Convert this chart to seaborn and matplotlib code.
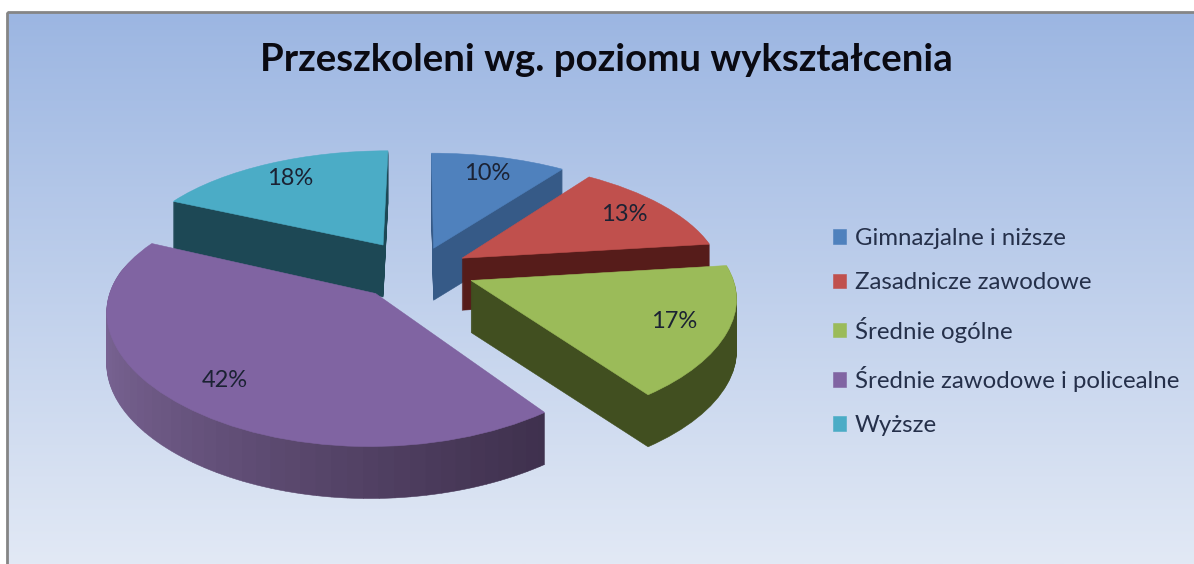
import numpy as np
import seaborn as sns
import matplotlib
matplotlib.use("Agg")
import matplotlib.pyplot as plt
from matplotlib.colors import to_rgb
from matplotlib.patches import Rectangle, Wedge
from matplotlib.transforms import Transform

title = "Przeszkoleni wg. poziomu wykształcenia"
categories = ["Gimnazjalne i niższe", "Zasadnicze zawodowe", "Średnie ogólne",
              "Średnie zawodowe i policealne", "Wyższe"]
shares = [10, 13, 17, 42, 18]

top_colors = ["#4f81bd", "#c0504d", "#9bbb59", "#8064a2", "#4bacc6"]
wall_colors = ["#365a87", "#561c1a", "#414f20", "#5a4673", "#1d4855"]

# purple wall goes dark from left to right
purple_left = "#7a6494"
purple_right = "#33263f"

CX, CY, RX, RY = 418, 270, 260, 118
TILT_BACK, TILT_FRONT, TILT_Y = 0.17, 0.12, 0.17
DEPTH = 52


class Tilted(Transform):
    # pie plane to pixels, with a bit of perspective, dropped by some pixels
    input_dims = 2
    output_dims = 2

    def __init__(self, drop=0):
        super().__init__()
        self.drop = drop

    def transform_non_affine(self, xy):
        xy = np.asarray(xy)
        wx = 1 + np.where(xy[:, 1] > 0, TILT_BACK, TILT_FRONT) * xy[:, 1]
        return np.column_stack((CX + RX * xy[:, 0] / wx,
                                CY - RY * xy[:, 1] / (1 + TILT_Y * xy[:, 1]) + self.drop))


sns.set_theme(style="white")
plt.rcParams["font.family"] = ["Lato", "DejaVu Sans"]

fig, ax = plt.subplots(figsize=(11.94, 5.64), dpi=100)
fig.subplots_adjust(0, 0, 1, 1)

wedges, _, pct = ax.pie(shares, colors=sns.color_palette(top_colors),
                        explode=[0.2, 0.2, 0.22, 0.25, 0.26], startangle=90, counterclock=False,
                        autopct="%.0f%%", pctdistance=0.8,
                        wedgeprops={"zorder": 3, "linewidth": 0.4},
                        textprops={"fontsize": 17, "color": "#1b2233", "zorder": 5})
ax.set_aspect("auto")
ax.axis("off")

ramp = np.linspace(0, 1, 256)[:, None, None]
bg = (1 - ramp) * np.array(to_rgb("#9cb6e2")) + ramp * np.array(to_rgb("#e2e9f5"))
ax.imshow(bg, extent=(8, 1194, 564, 13), aspect="auto", zorder=0)
ax.set_xlim(0, 1194)
ax.set_ylim(564, 0)
ax.add_patch(Rectangle((7, 12), 1300, 700, fc="none", ec="#858585", lw=2, zorder=1))

top = Tilted(0) + ax.transData
for w in wedges:
    w.set_transform(top)
    w.set_edgecolor(w.get_facecolor())
for t in pct:
    t.set_transform(top)

for drop in range(DEPTH, 0, -1):
    tr = Tilted(drop) + ax.transData
    for i, w in enumerate(wedges):
        if categories[i].endswith("policealne"):
            edges = np.arange(w.theta1, w.theta2 + 3, 3.0).clip(max=w.theta2)
            for a, b in zip(edges[:-1], edges[1:]):
                t = ((np.cos(np.radians((a + b) / 2)) + 1) / 2) ** 0.8
                c = (1 - t) * np.array(to_rgb(purple_left)) + t * np.array(to_rgb(purple_right))
                ax.add_patch(Wedge(w.center, 1, a, b, fc=c, ec=c, lw=0.4, zorder=2, transform=tr))
        else:
            ax.add_patch(Wedge(w.center, 1, w.theta1, w.theta2, fc=wall_colors[i], ec=wall_colors[i],
                               lw=0.4, zorder=2, transform=tr))

ax.text(606, 60, title, fontsize=27.6, fontweight="bold", color="#0a0a12", ha="center", va="center")

ax.legend(wedges, categories, loc="upper left", bbox_to_anchor=(833 / 1194, 1 - 228 / 564),
          frameon=False, fontsize=17.3, labelcolor="#25304a", handlelength=0.55, handleheight=0.55,
          handletextpad=0.37, labelspacing=0.97, borderpad=0, borderaxespad=0)

plt.savefig("out.png", dpi=100)
